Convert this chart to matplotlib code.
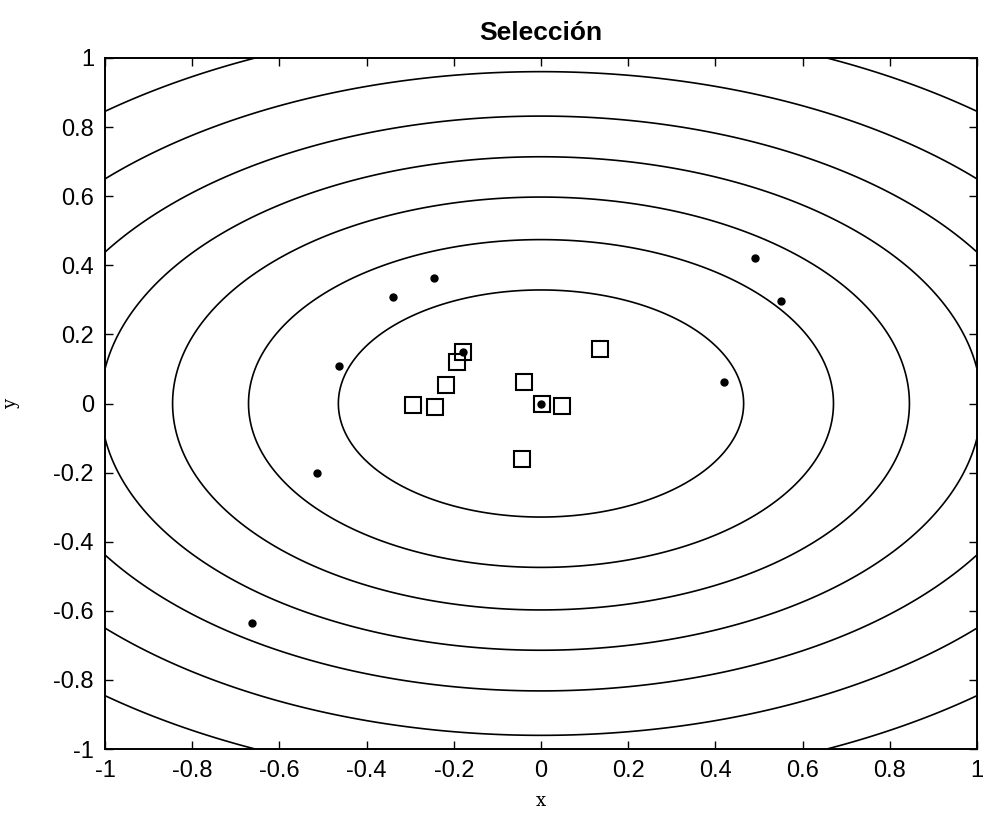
import numpy as np
import matplotlib
matplotlib.use("Agg")
import matplotlib.pyplot as plt

plt.rcParams['axes.unicode_minus'] = False
plt.rcParams['font.family'] = ['Liberation Sans', 'DejaVu Sans']

# Contour levels (objective f = x^2 + 2 y^2)
levels = [0.216, 0.45, 0.714, 1.02, 1.384, 1.845, 2.43]
y_weight = 2.0

# Population (dots)
dots_x = [-0.663, -0.514, -0.464, -0.339, -0.245, -0.180, 0.000, 0.420, 0.491, 0.550]
dots_y = [-0.636, -0.202, 0.109, 0.309, 0.362, 0.150, 0.000, 0.061, 0.420, 0.298]

# Selected individuals (squares)
sel_x = [-0.178, -0.192, -0.219, -0.294, -0.243, -0.040, 0.002, 0.048, -0.044, 0.135]
sel_y = [0.148, 0.119, 0.054, -0.004, -0.011, 0.061, -0.002, -0.007, -0.162, 0.157]

ticks = [-1, -0.8, -0.6, -0.4, -0.2, 0, 0.2, 0.4, 0.6, 0.8, 1]
tick_labels = ['-1', '-0.8', '-0.6', '-0.4', '-0.2', '0', '0.2', '0.4', '0.6', '0.8', '1']

fig = plt.figure(figsize=(9.84, 8.14), dpi=100)
ax = fig.add_axes([105/984, 1-749/814, 872/984, 691/814])

g = np.linspace(-1, 1, 401)
X, Y = np.meshgrid(g, g)
Z = X**2 + y_weight * Y**2
ax.contour(X, Y, Z, levels=levels, colors='black', linewidths=1.2)

ax.plot(dots_x, dots_y, 'o', color='black', markersize=5, linestyle='none')
ax.plot(sel_x, sel_y, 's', markerfacecolor='none', markeredgecolor='black',
        markersize=12, markeredgewidth=1.5, linestyle='none')

ax.set_xlim(-1, 1)
ax.set_ylim(-1, 1)
ax.set_xticks(ticks)
ax.set_xticklabels(tick_labels)
ax.set_yticks(ticks)
ax.set_yticklabels(tick_labels)
ax.tick_params(direction='in', length=6, width=1.0, top=True, right=True,
               labelsize=17, pad=8)
for s in ax.spines.values():
    s.set_linewidth(1.4)

ax.set_title('Selección', fontsize=19, fontweight='bold', pad=13)
ax.set_xlabel('x', fontsize=13, family='DejaVu Serif', labelpad=7)
ax.set_ylabel('y', fontsize=13, family='DejaVu Serif', labelpad=24)

fig.savefig('out.png', dpi=100)
